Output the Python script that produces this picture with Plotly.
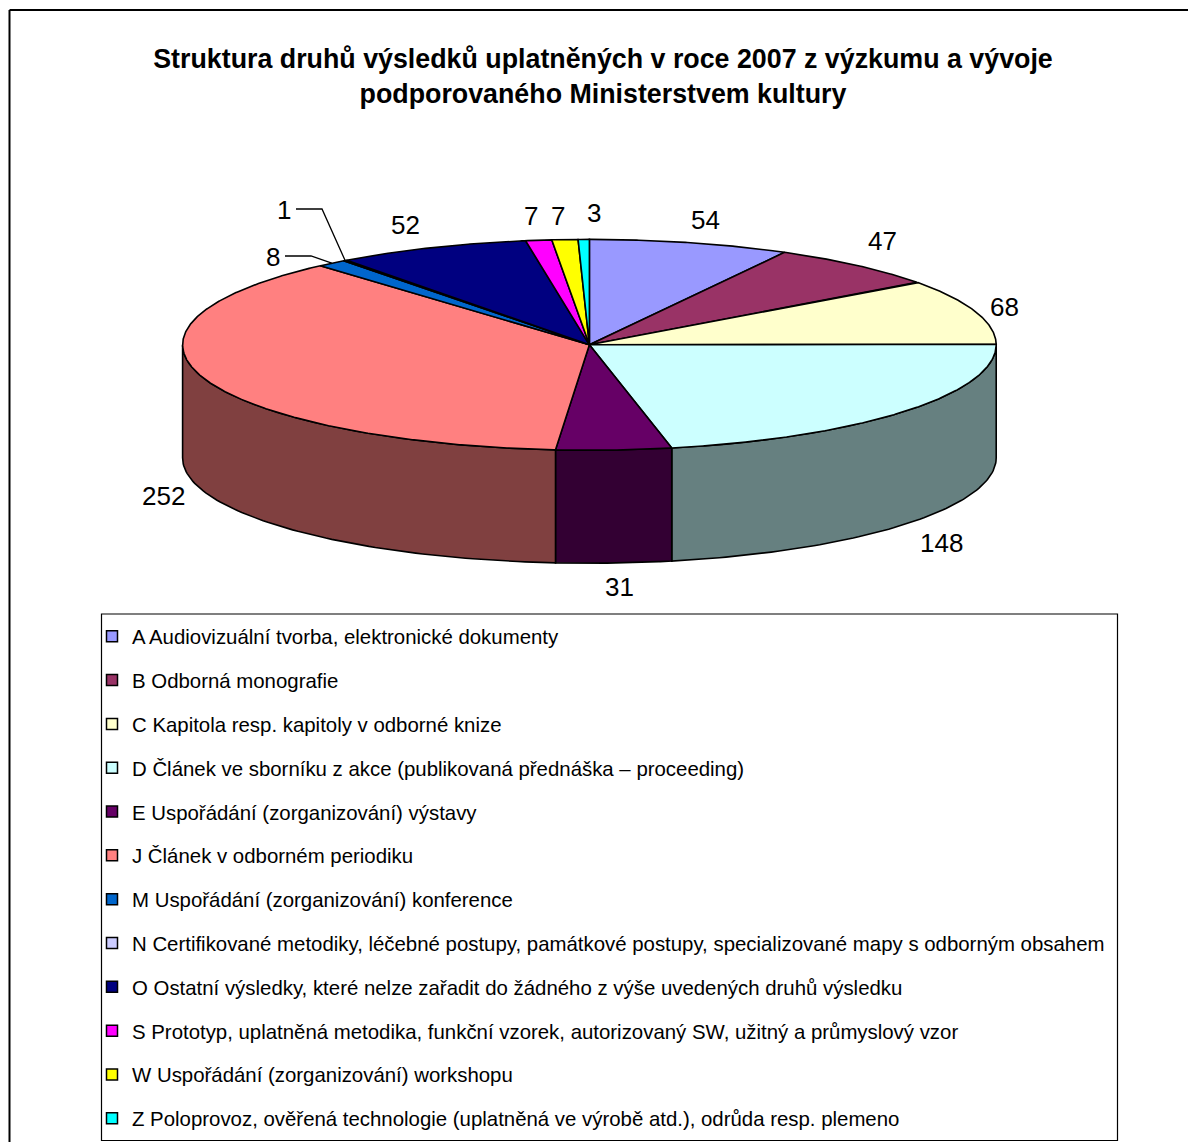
import numpy as np
import plotly.graph_objects as go

codes = ["A", "B", "C", "D", "E", "J", "M", "N", "O", "S", "W", "Z"]
categories = [
    "A Audiovizuální tvorba, elektronické dokumenty",
    "B Odborná monografie",
    "C Kapitola resp. kapitoly v odborné knize",
    "D Článek ve sborníku z akce (publikovaná přednáška – proceeding)",
    "E Uspořádání (zorganizování) výstavy",
    "J Článek v odborném periodiku",
    "M Uspořádání (zorganizování) konference",
    "N Certifikované metodiky, léčebné postupy, památkové postupy, specializované mapy s odborným obsahem",
    "O Ostatní výsledky, které nelze zařadit do žádného z výše uvedených druhů výsledku",
    "S Prototyp, uplatněná metodika, funkční vzorek, autorizovaný SW, užitný a průmyslový vzor",
    "W Uspořádání (zorganizování) workshopu",
    "Z Poloprovoz, ověřená technologie (uplatněná ve výrobě atd.), odrůda resp. plemeno",
]
values = [54, 47, 68, 148, 31, 252, 8, 1, 52, 7, 7, 3]
title = ("Struktura druhů výsledků uplatněných v roce 2007 z výzkumu a vývoje<br>"
         "podporovaného Ministerstvem kultury")

# styles and layout
top_colors = ["#9999FF", "#993366", "#FFFFCC", "#CCFFFF", "#660066", "#FF8080",
              "#0066CC", "#CCCCFF", "#000080", "#FF00FF", "#FFFF00", "#00FFFF"]
side_colors = ["#4D4D80", "#4D1A33", "#808066", "#668080", "#330033", "#804040",
               "#003366", "#666680", "#000040", "#800080", "#808000", "#008080"]
CX, CY, RX, RY, DEPTH = 589.4, 344.8, 406.8, 105.4, 113.0
label_xy = [(705, 220), (882, 241), (1004, 307), (941, 543), (619, 587), (163, 496),
            (273, 257), (284, 210), (405, 225), (531, 216), (558, 216), (594, 213)]
LINE = 1.6


def rim(theta):
    return CX + RX * np.sin(theta), CY - RY * np.cos(theta)


edges = np.concatenate([[0], np.cumsum(values)]) / sum(values) * 2 * np.pi
fig = go.Figure()

# side walls: only the part of each slice on the front half of the pie
for i in range(len(values)):
    a, b = max(edges[i], np.pi / 2), min(edges[i + 1], 3 * np.pi / 2)
    if b <= a:
        continue
    t = np.linspace(a, b, 80)
    x, y = rim(t)
    fig.add_trace(go.Scatter(
        x=np.concatenate([x, x[::-1], x[:1]]),
        y=np.concatenate([y, y[::-1] + DEPTH, y[:1]]),
        mode="lines", fill="toself", fillcolor=side_colors[i],
        line=dict(color="black", width=LINE), showlegend=False, hoverinfo="skip"))

# top faces
for i, v in enumerate(values):
    t = np.linspace(edges[i], edges[i + 1], max(3, int(v * 2)))
    x, y = rim(t)
    fig.add_trace(go.Scatter(
        x=np.concatenate([[CX], x, [CX]]),
        y=np.concatenate([[CY], y, [CY]]),
        mode="lines", fill="toself", fillcolor=top_colors[i],
        line=dict(color="black", width=LINE), showlegend=False,
        name=codes[i], text=f"{categories[i]}: {v}", hoverinfo="text"))

# leader lines for the two small slices
for i in (6, 7):
    mid = (edges[i] + edges[i + 1]) / 2
    ex, ey = rim(mid)
    lx, ly = label_xy[i]
    fig.add_trace(go.Scatter(
        x=[lx + 12, lx + 38, ex], y=[ly - 1, ly - 1, ey], mode="lines",
        line=dict(color="black", width=1.3), showlegend=False, hoverinfo="skip"))

# value labels
for v, (lx, ly) in zip(values, label_xy):
    fig.add_annotation(x=lx, y=ly, xref="x", yref="y", text=str(v), showarrow=False,
                       font=dict(family="Liberation Sans", size=26, color="black"),
                       xanchor="center", yanchor="middle")

# legend entries
for i, name in enumerate(categories):
    fig.add_trace(go.Scatter(
        x=[None], y=[None], mode="markers", name=name, legendgroup=codes[i],
        marker=dict(symbol="square", size=11, color=top_colors[i],
                    line=dict(color="black", width=1.5))))

fig.update_layout(
    width=1188, height=1142, margin=dict(l=0, r=0, t=0, b=0),
    paper_bgcolor="white", plot_bgcolor="white",
    xaxis=dict(range=[0, 1188], visible=False, fixedrange=True),
    yaxis=dict(range=[1142, 0], visible=False, fixedrange=True),
    title=dict(text=title, x=603 / 1188, xanchor="center", y=1 - 68 / 1142, yanchor="middle",
               font=dict(family="Liberation Sans", size=26.8, color="black", weight="bold")),
    legend=dict(x=92 / 1188, y=1 - 616.5 / 1142, xanchor="left", yanchor="top",
                bgcolor="rgba(0,0,0,0)", borderwidth=0,
                font=dict(family="Liberation Sans", size=20.4, color="black"),
                tracegroupgap=14.3, itemsizing="trace", traceorder="grouped",
                itemclick=False, itemdoubleclick=False),
    showlegend=True,
    shapes=[
        dict(type="line", xref="paper", yref="paper", x0=9.5 / 1188, x1=1, y0=1 - 10 / 1142, y1=1 - 10 / 1142,
             line=dict(color="black", width=2)),
        dict(type="line", xref="paper", yref="paper", x0=9.5 / 1188, x1=9.5 / 1188, y0=1 - 10 / 1142, y1=0,
             line=dict(color="black", width=2)),
        dict(type="rect", xref="paper", yref="paper", x0=101.5 / 1188, x1=1117.5 / 1188,
             y0=1 - 614 / 1142, y1=1 - 1140.5 / 1142, line=dict(color="black", width=1.2)),
    ],
)

fig.write_html("out.html", config={"displayModeBar": False},
               post_script="document.body.style.margin='0';document.body.style.overflow='hidden';")
